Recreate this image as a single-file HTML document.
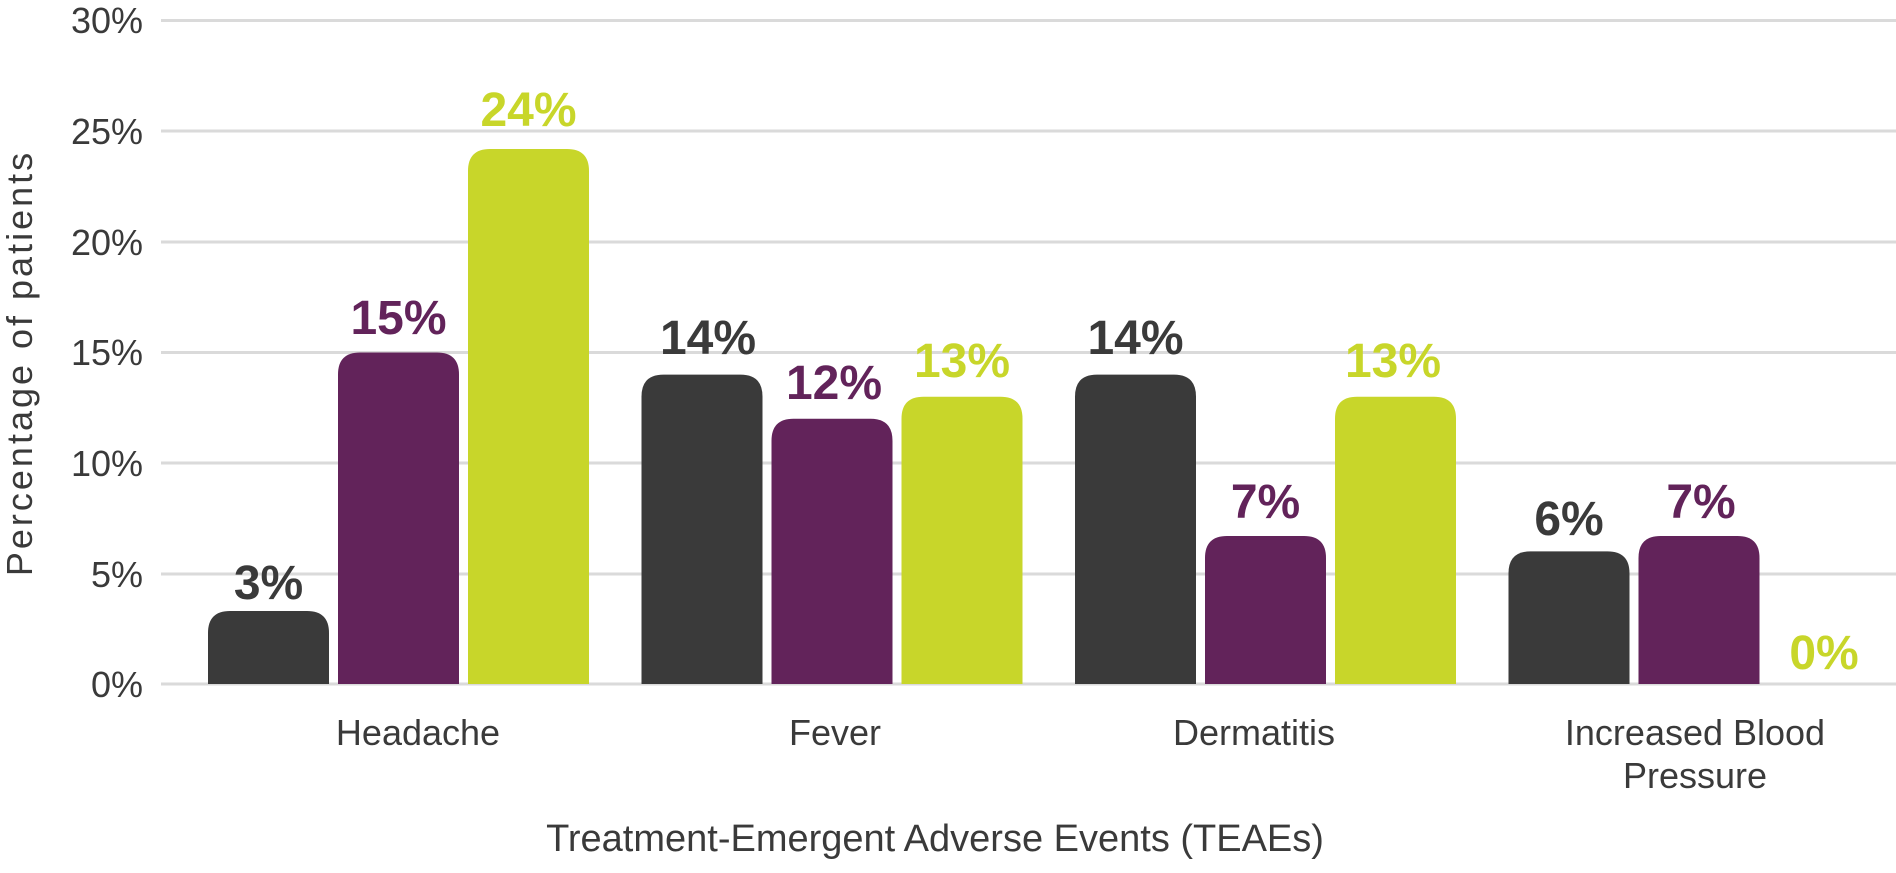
<!DOCTYPE html>
<html><head><style>body{margin:0;background:#fff}</style></head><body>
<svg width="1896" height="868" xmlns="http://www.w3.org/2000/svg" font-family="Liberation Sans, sans-serif">
<g stroke="#dadada" stroke-width="3">
<line x1="161" x2="1896" y1="20.5" y2="20.5"/>
<line x1="161" x2="1896" y1="131" y2="131"/>
<line x1="161" x2="1896" y1="242" y2="242"/>
<line x1="161" x2="1896" y1="352.5" y2="352.5"/>
<line x1="161" x2="1896" y1="463" y2="463"/>
<line x1="161" x2="1896" y1="574" y2="574"/>
<line x1="161" x2="1896" y1="684" y2="684"/>
</g>
<g font-size="36" fill="#3a3a3a" text-anchor="end">
<text x="143" y="33">30%</text>
<text x="143" y="144">25%</text>
<text x="143" y="255">20%</text>
<text x="143" y="365">15%</text>
<text x="143" y="476">10%</text>
<text x="143" y="587">5%</text>
<text x="143" y="697">0%</text>
</g>
<text transform="translate(32,363) rotate(-90)" text-anchor="middle" font-size="36" fill="#3a3a3a" letter-spacing="3">Percentage of patients</text>
<g>
<path d="M208 684V633Q208 611 230 611H307Q329 611 329 633V684Z" fill="#3a3a3a"/>
<path d="M338 684V374.5Q338 352.5 360 352.5H437Q459 352.5 459 374.5V684Z" fill="#62235a"/>
<path d="M468 684V171Q468 149 490 149H567Q589 149 589 171V684Z" fill="#c8d62a"/>
<path d="M641.5 684V396.6Q641.5 374.6 663.5 374.6H740.5Q762.5 374.6 762.5 396.6V684Z" fill="#3a3a3a"/>
<path d="M771.5 684V440.8Q771.5 418.8 793.5 418.8H870.5Q892.5 418.8 892.5 440.8V684Z" fill="#62235a"/>
<path d="M901.5 684V418.7Q901.5 396.7 923.5 396.7H1000.5Q1022.5 396.7 1022.5 418.7V684Z" fill="#c8d62a"/>
<path d="M1075 684V396.6Q1075 374.6 1097 374.6H1174Q1196 374.6 1196 396.6V684Z" fill="#3a3a3a"/>
<path d="M1205 684V558Q1205 536 1227 536H1304Q1326 536 1326 558V684Z" fill="#62235a"/>
<path d="M1335 684V418.7Q1335 396.7 1357 396.7H1434Q1456 396.7 1456 418.7V684Z" fill="#c8d62a"/>
<path d="M1508.5 684V573.4Q1508.5 551.4 1530.5 551.4H1607.5Q1629.5 551.4 1629.5 573.4V684Z" fill="#3a3a3a"/>
<path d="M1638.5 684V558Q1638.5 536 1660.5 536H1737.5Q1759.5 536 1759.5 558V684Z" fill="#62235a"/>
</g>
<g font-size="48" font-weight="bold" text-anchor="middle">
<text x="268.5" y="599" fill="#3a3a3a">3%</text>
<text x="398.5" y="334" fill="#62235a">15%</text>
<text x="528.5" y="126" fill="#c8d62a">24%</text>
<text x="708" y="354" fill="#3a3a3a">14%</text>
<text x="834" y="399" fill="#62235a">12%</text>
<text x="962" y="377" fill="#c8d62a">13%</text>
<text x="1135.5" y="354" fill="#3a3a3a">14%</text>
<text x="1265.5" y="518" fill="#62235a">7%</text>
<text x="1393" y="377" fill="#c8d62a">13%</text>
<text x="1569" y="535" fill="#3a3a3a">6%</text>
<text x="1701" y="518" fill="#62235a">7%</text>
<text x="1824" y="669" fill="#c8d62a">0%</text>
</g>
<g font-size="36" fill="#3a3a3a" text-anchor="middle">
<text x="418" y="745">Headache</text>
<text x="835" y="745">Fever</text>
<text x="1254" y="745">Dermatitis</text>
<text x="1695" y="745">Increased Blood</text>
<text x="1695" y="788">Pressure</text>
</g>
<text x="935" y="851" text-anchor="middle" font-size="38" fill="#3a3a3a">Treatment-Emergent Adverse Events (TEAEs)</text>
</svg>
</body></html>
